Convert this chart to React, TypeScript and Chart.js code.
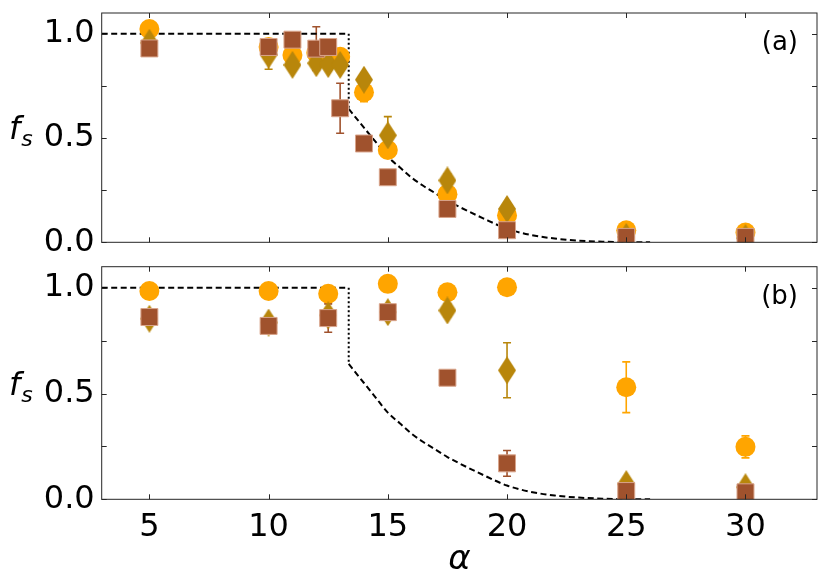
import { useEffect, useRef } from "react";
import { Chart, registerables } from "chart.js";

Chart.register(...registerables);

const ORANGE = "#ffa500";
const GOLD = "#b8860b";
const SIENNA = "#a0522d";
const FONT = "'DejaVu Sans', sans-serif";

const W = 830;
const H = 584;

// axis ticks
const xTicks = [5, 10, 15, 20, 25, 30];
const yLabelTicks = [0, 0.5, 1.0];
const yMarks = [0, 0.25, 0.5, 0.75, 1.0];

// theory curve (same in both panels)
const stepX = [3, 13.36];
const stepY = [1, 1];
const dropX = [13.36, 13.36];
const dropY = [1, 0.64];
const decayX = [13.36, 14, 14.5, 15, 15.5, 16, 16.5, 17, 17.5, 18, 19, 20, 21, 22, 23, 24, 25, 26];
const decayY = [0.64, 0.55, 0.48, 0.41, 0.36, 0.31, 0.27, 0.235, 0.2, 0.17, 0.115, 0.065, 0.035, 0.018, 0.008, 0.003, 0.001, 0];

// panel (a)
const aCircleX = [5, 10, 11, 12, 13, 14, 15, 17.5, 20, 25, 30];
const aCircleY = [1.023, 0.937, 0.898, 0.909, 0.89, 0.72, 0.443, 0.231, 0.129, 0.058, 0.047];
const aCircleErr = [0.02, 0.02, 0.02, 0.02, 0.02, 0.046, 0.03, 0.02, 0.02, 0.01, 0.01];
const aDiamondX = [5, 10, 11, 12, 12.5, 13, 14, 15, 17.5, 20, 25, 30];
const aDiamondY = [0.957, 0.9, 0.851, 0.859, 0.855, 0.851, 0.78, 0.513, 0.297, 0.16, 0.026, 0.02];
const aDiamondErr = [0.04, 0.07, 0.02, 0.02, 0.02, 0.02, 0.03, 0.09, 0.03, 0.03, 0.01, 0.01];
const aSquareX = [5, 10, 11, 12, 12.5, 13, 14, 15, 17.5, 20, 25, 30];
const aSquareY = [0.93, 0.937, 0.972, 0.929, 0.937, 0.643, 0.474, 0.312, 0.16, 0.058, 0.026, 0.026];
const aSquareErr = [0.03, 0.02, 0.02, 0.105, 0.02, 0.12, 0.02, 0.02, 0.02, 0.02, 0.01, 0.01];

// panel (b)
const bX = [5, 10, 12.5, 15, 17.5, 20, 25, 30];
const bCircleY = [0.985, 0.985, 0.972, 1.019, 0.979, 1.003, 0.53, 0.248];
const bCircleErr = [0.02, 0.02, 0.02, 0.02, 0.02, 0.02, 0.12, 0.052];
const bDiamondY = [0.854, 0.836, 0.87, 0.885, 0.893, 0.61, 0.072, 0.057];
const bDiamondErr = [0.03, 0.03, 0.03, 0.03, 0.03, 0.13, 0.01, 0.01];
const bSquareY = [0.862, 0.82, 0.857, 0.885, 0.575, 0.17, 0.039, 0.033];
const bSquareErr = [0.02, 0.02, 0.067, 0.02, 0.02, 0.061, 0.01, 0.01];

interface Panel {
  label: string;
  top: number;
  bottom: number;
  showX: boolean;
  circleX: number[];
  circleY: number[];
  circleErr: number[];
  diamondX: number[];
  diamondY: number[];
  diamondErr: number[];
  squareX: number[];
  squareY: number[];
  squareErr: number[];
}

const panelA: Panel = {
  label: "(a)", top: 9, bottom: 242.3, showX: false,
  circleX: aCircleX, circleY: aCircleY, circleErr: aCircleErr,
  diamondX: aDiamondX, diamondY: aDiamondY, diamondErr: aDiamondErr,
  squareX: aSquareX, squareY: aSquareY, squareErr: aSquareErr,
};

const panelB: Panel = {
  label: "(b)", top: 266.7, bottom: 499.3, showX: true,
  circleX: bX, circleY: bCircleY, circleErr: bCircleErr,
  diamondX: bX, diamondY: bDiamondY, diamondErr: bDiamondErr,
  squareX: bX, squareY: bSquareY, squareErr: bSquareErr,
};

function diamondImage(color: string) {
  const c = document.createElement("canvas");
  c.width = 18;
  c.height = 28;
  const g = c.getContext("2d")!;
  g.fillStyle = color;
  g.beginPath();
  g.moveTo(9, 0);
  g.lineTo(18, 14);
  g.lineTo(9, 28);
  g.lineTo(0, 14);
  g.closePath();
  g.fill();
  return c;
}

const pts = (xs: number[], ys: number[]) => xs.map((x, i) => ({ x, y: ys[i] }));

const errorBars = {
  id: "errorBars",
  beforeDatasetsDraw(chart: any) {
    const { ctx, chartArea, scales } = chart;
    ctx.save();
    ctx.beginPath();
    ctx.rect(chartArea.left, chartArea.top, chartArea.right - chartArea.left, chartArea.bottom - chartArea.top);
    ctx.clip();
    chart.data.datasets.forEach((ds: any) => {
      if (!ds.errors) return;
      ctx.strokeStyle = ds.backgroundColor;
      ctx.lineWidth = 1.6;
      ds.data.forEach((p: any, i: number) => {
        const e = ds.errors[i];
        const x = scales.x.getPixelForValue(p.x);
        const y1 = scales.y.getPixelForValue(p.y + e);
        const y2 = scales.y.getPixelForValue(p.y - e);
        ctx.beginPath();
        ctx.moveTo(x, y1);
        ctx.lineTo(x, y2);
        ctx.moveTo(x - 4, y1);
        ctx.lineTo(x + 4, y1);
        ctx.moveTo(x - 4, y2);
        ctx.lineTo(x + 4, y2);
        ctx.stroke();
      });
    });
    ctx.restore();
  },
};

function framePlugin(panel: Panel) {
  return {
    id: "frame",
    afterDraw(chart: any) {
      const { ctx, chartArea, scales } = chart;
      const { left, right, top, bottom } = chartArea;
      ctx.save();
      ctx.strokeStyle = "#262626";
      ctx.lineWidth = 1;
      ctx.strokeRect(left, top, right - left, bottom - top);
      ctx.beginPath();
      xTicks.forEach((v) => {
        const x = Math.round(scales.x.getPixelForValue(v)) + 0.5;
        ctx.moveTo(x, bottom);
        ctx.lineTo(x, bottom - 5);
        ctx.moveTo(x, top);
        ctx.lineTo(x, top + 5);
      });
      yMarks.forEach((v) => {
        const y = Math.round(scales.y.getPixelForValue(v)) + 0.5;
        ctx.moveTo(left, y);
        ctx.lineTo(left + 5, y);
        ctx.moveTo(right, y);
        ctx.lineTo(right - 5, y);
      });
      ctx.stroke();

      ctx.fillStyle = "#000";
      // panel letter
      ctx.font = `26px ${FONT}`;
      ctx.textAlign = "right";
      ctx.textBaseline = "alphabetic";
      ctx.fillText(panel.label, right - 19, top + 37);

      // y label f_s
      const yb = scales.y.getPixelForValue(0.5) + 1;
      ctx.textAlign = "left";
      ctx.font = `italic 32px ${FONT}`;
      ctx.fillText("f", 9, yb);
      const wf = ctx.measureText("f").width;
      ctx.font = `italic 22px ${FONT}`;
      ctx.fillText("s", 9 + wf + 1, yb + 7);

      if (panel.showX) {
        ctx.textAlign = "center";
        ctx.font = `italic 34px ${FONT}`;
        ctx.fillText("α", (left + right) / 2, 569);
      }
      ctx.restore();
    },
  };
}

function buildChart(canvas: HTMLCanvasElement, panel: Panel) {
  const diamond = diamondImage(GOLD);
  const lineBase = {
    showLine: true,
    pointRadius: 0,
    borderColor: "#000",
    borderWidth: 2,
    backgroundColor: "transparent",
    fill: false,
    order: 4,
    clip: 0,
  };
  return new Chart(canvas, {
    type: "scatter",
    data: {
      datasets: [
        {
          label: "squares",
          data: pts(panel.squareX, panel.squareY),
          errors: panel.squareErr,
          pointStyle: "rect",
          pointRadius: 12,
          backgroundColor: SIENNA,
          borderColor: "#d9a58c",
          borderWidth: 1,
          order: 1,
          clip: 0,
        },
        {
          label: "diamonds",
          data: pts(panel.diamondX, panel.diamondY),
          errors: panel.diamondErr,
          pointStyle: diamond,
          pointRadius: 10,
          backgroundColor: GOLD,
          borderWidth: 0,
          order: 2,
          clip: 0,
        },
        {
          label: "circles",
          data: pts(panel.circleX, panel.circleY),
          errors: panel.circleErr,
          pointStyle: "circle",
          pointRadius: 10,
          backgroundColor: ORANGE,
          borderWidth: 0,
          order: 3,
          clip: 0,
        },
        { ...lineBase, label: "step", data: pts(stepX, stepY), borderDash: [6, 3.5] },
        { ...lineBase, label: "drop", data: pts(dropX, dropY), borderDash: [2, 2.5] },
        {
          ...lineBase,
          label: "decay",
          data: pts(decayX, decayY),
          borderDash: [6, 3.5],
          cubicInterpolationMode: "monotone",
        },
      ] as any,
    },
    options: {
      animation: false,
      responsive: false,
      events: [],
      layout: { padding: { left: 0, right: W - 820.7, top: panel.top, bottom: 0 } },
      plugins: { legend: { display: false }, tooltip: { enabled: false } },
      scales: {
        x: {
          type: "linear",
          min: 3,
          max: 33,
          afterBuildTicks: (s: any) => {
            s.ticks = xTicks.map((value) => ({ value }));
          },
          afterFit: (s: any) => {
            s.height = H - panel.bottom;
            s.paddingLeft = 0;
            s.paddingRight = 0;
          },
          grid: { display: false, drawTicks: false },
          border: { display: false },
          ticks: {
            display: panel.showX,
            color: "#000",
            padding: 9,
            maxRotation: 0,
            autoSkip: false,
            font: { family: FONT, size: 32 },
          },
        },
        y: {
          type: "linear",
          min: 0,
          max: 1.1,
          afterBuildTicks: (s: any) => {
            s.ticks = yLabelTicks.map((value) => ({ value }));
          },
          afterFit: (s: any) => {
            s.width = 101.7;
            s.paddingTop = 0;
            s.paddingBottom = 0;
          },
          grid: { display: false, drawTicks: false },
          border: { display: false },
          ticks: {
            color: "#000",
            padding: 7,
            font: { family: FONT, size: 32 },
            callback: (v: any) => Number(v).toFixed(1),
          },
        },
      },
    },
    plugins: [errorBars, framePlugin(panel)],
  } as any);
}

export default function App() {
  const refA = useRef<HTMLCanvasElement>(null);
  const refB = useRef<HTMLCanvasElement>(null);

  useEffect(() => {
    document.body.style.margin = "0";
    if (!refA.current || !refB.current) return;
    const a = buildChart(refA.current, panelA);
    const b = buildChart(refB.current, panelB);
    return () => {
      a.destroy();
      b.destroy();
    };
  }, []);

  const canvasStyle = { position: "absolute" as const, left: 0, top: 0, width: W, height: H };

  return (
    <div style={{ position: "relative", width: W, height: H, background: "#fff" }}>
      <canvas ref={refA} width={W} height={H} style={canvasStyle}></canvas>
      <canvas ref={refB} width={W} height={H} style={canvasStyle}></canvas>
    </div>
  );
}
